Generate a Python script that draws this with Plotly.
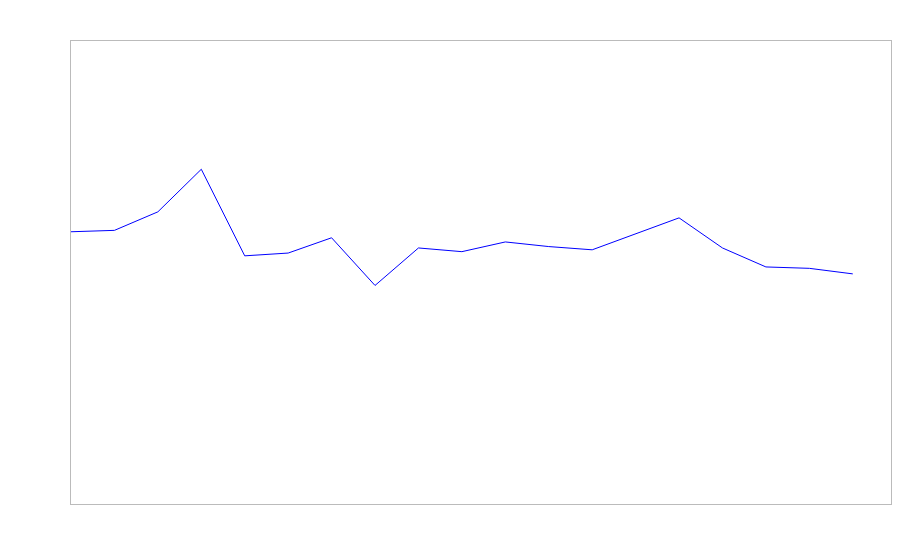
import plotly.graph_objects as go

x_index = list(range(19))
values = [58.8, 59.1, 63.1, 72.3, 53.6, 54.2, 57.5, 47.2, 55.3, 54.5,
          56.6, 55.6, 54.9, 58.3, 61.8, 55.3, 51.2, 50.9, 49.7]

fig = go.Figure()
fig.add_trace(go.Scatter(
    x=x_index,
    y=values,
    mode="lines",
    line=dict(color="blue", width=1),
    hoverinfo="skip",
))

axis_style = dict(
    showgrid=False,
    zeroline=False,
    showticklabels=False,
    ticks="",
    showline=True,
    linecolor="#bbbbbb",
    linewidth=1,
    mirror=True,
)

fig.update_layout(
    width=900,
    height=560,
    showlegend=False,
    plot_bgcolor="white",
    paper_bgcolor="white",
    margin=dict(l=63, r=16.5, t=33, b=64),
    xaxis=dict(range=[0, 18.88], **axis_style),
    yaxis=dict(range=[0, 100], **axis_style),
)

fig.write_html("out.html")
